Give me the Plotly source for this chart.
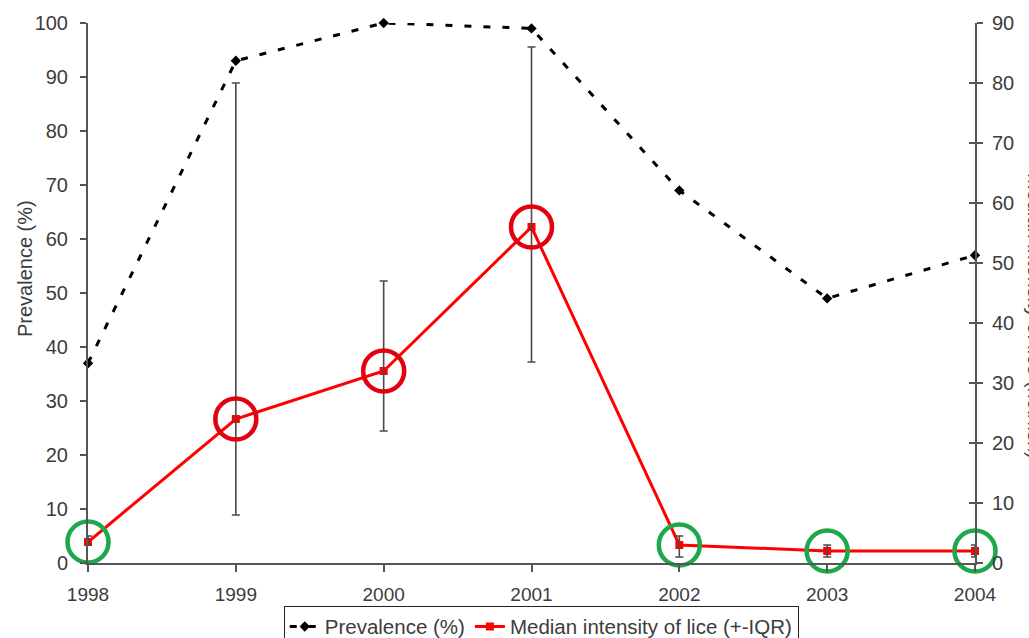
import plotly.graph_objects as go

# Survey years
years = [1998, 1999, 2000, 2001, 2002, 2003, 2004]

# Prevalence of lice (%), left axis
prevalence = [37, 93, 100, 99, 69, 49, 57]

# Median intensity of lice with interquartile range, right axis
median_intensity = [3.5, 24, 32, 56, 3, 2, 2]
iqr_low = [3, 8, 22, 33.5, 1, 1, 1]
iqr_high = [4.5, 80, 47, 86, 4.5, 3, 3]

# Highlight ring colour per year
ring_colors = ["#1ea84c", "#e3000f", "#e3000f", "#e3000f", "#1ea84c", "#1ea84c", "#1ea84c"]

FONT = "Liberation Sans, Arial, sans-serif"
TEXT = "#3c3c3c"
AXIS = "#555555"

err_plus = [h - m for h, m in zip(iqr_high, median_intensity)]
err_minus = [m - l for m, l in zip(median_intensity, iqr_low)]

fig = go.Figure()

fig.add_trace(go.Scatter(
    x=years, y=prevalence, name="Prevalence (%)", yaxis="y",
    mode="lines+markers",
    line=dict(color="black", width=3, dash="7px,12px"),
    marker=dict(symbol="diamond", size=8, color="black"),
    cliponaxis=False,
))

fig.add_trace(go.Scatter(
    x=years, y=median_intensity, name="Median intensity of lice (+-IQR)", yaxis="y2",
    mode="lines+markers",
    line=dict(color="#ff0000", width=3),
    marker=dict(symbol="square", size=8, color="#ff0000"),
    cliponaxis=False,
))

fig.add_trace(go.Scatter(
    x=years, y=median_intensity, yaxis="y2", mode="markers",
    marker=dict(size=1, color="rgba(0,0,0,0)"),
    error_y=dict(type="data", symmetric=False, array=err_plus, arrayminus=err_minus,
                 color="#4a4a4a", thickness=1.6, width=4),
    showlegend=False, hoverinfo="skip", cliponaxis=False,
))

fig.add_trace(go.Scatter(
    x=years, y=median_intensity, yaxis="y2", mode="markers",
    marker=dict(symbol="circle-open", size=41, color=ring_colors,
                line=dict(width=4.5)),
    showlegend=False, hoverinfo="skip", cliponaxis=False,
))

# empty trace so the crossing-tick overlay axis is drawn
fig.add_trace(go.Scatter(x=[], y=[], yaxis="y3", showlegend=False))

tick_font = dict(family=FONT, size=20, color=TEXT)

fig.update_layout(
    width=1029, height=638,
    margin=dict(l=88, r=54, t=23, b=75, autoexpand=False),
    paper_bgcolor="white", plot_bgcolor="white",
    font=dict(family=FONT, color=TEXT),
    xaxis=dict(
        range=[1998, 2004], tickvals=years, ticktext=[str(y) for y in years],
        showgrid=False, zeroline=False, showline=True, linecolor=AXIS, linewidth=2,
        ticks="outside", ticklen=7, tickwidth=1.5, tickcolor=AXIS,
        tickfont=dict(family=FONT, size=19, color=TEXT), ticklabelstandoff=6,
    ),
    yaxis=dict(
        range=[0, 100], tickvals=list(range(0, 101, 10)),
        showgrid=False, zeroline=False, showline=True, linecolor=AXIS, linewidth=2,
        ticks="outside", ticklen=6, tickwidth=1.5, tickcolor=AXIS,
        tickfont=tick_font, ticklabelstandoff=8,
    ),
    yaxis2=dict(
        range=[0, 90], tickvals=list(range(0, 91, 10)), overlaying="y", side="right",
        showgrid=False, zeroline=False, showline=True, linecolor=AXIS, linewidth=2,
        ticks="outside", ticklen=6, tickwidth=1.5, tickcolor=AXIS,
        tickfont=tick_font, ticklabelstandoff=5,
    ),
    yaxis3=dict(
        range=[0, 90], tickvals=list(range(0, 91, 10)), overlaying="y", side="right",
        showgrid=False, zeroline=False, showline=False, showticklabels=False,
        ticks="inside", ticklen=6, tickwidth=1.5, tickcolor=AXIS,
    ),
    legend=dict(
        orientation="h", x=0.511, xanchor="center", y=-0.079, yanchor="top",
        bordercolor="#222222", borderwidth=1, bgcolor="white",
        font=dict(family=FONT, size=20.5, color=TEXT),
        itemwidth=30, tracegroupgap=0,
    ),
    annotations=[
        dict(text="Prevalence (%)", xref="paper", yref="paper",
             x=(25 - 88) / 887, y=(563 - 269) / 540, xanchor="center", yanchor="middle",
             textangle=-90, showarrow=False,
             font=dict(family=FONT, size=20, color=TEXT)),
        dict(text="Median intensity of lice (no./fish)", xref="paper", yref="paper",
             x=(1035 - 88) / 887, y=(563 - 316) / 540, xanchor="center", yanchor="middle",
             textangle=90, showarrow=False,
             font=dict(family=FONT, size=20, color=TEXT)),
    ],
    showlegend=True,
)

fig.write_html("out.html")
